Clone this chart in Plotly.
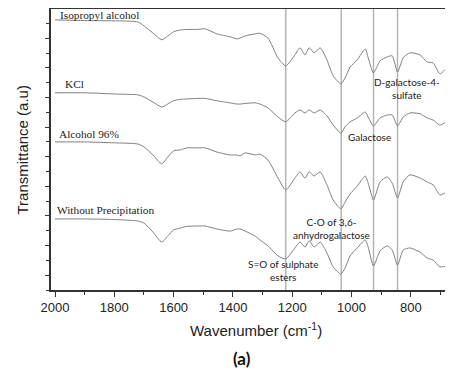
import plotly.graph_objects as go

wavenumber = [2000, 1900, 1800, 1720, 1700, 1670, 1640, 1620, 1600, 1578, 1555, 1520, 1494, 1454,
              1410, 1386, 1376, 1359, 1325, 1309, 1282, 1248, 1222, 1191, 1174, 1157, 1143, 1126,
              1106, 1083, 1062, 1036, 1022, 1005, 981, 954, 944, 926, 904, 880, 863, 845, 826,
              803, 769, 745, 725, 702, 678, 658]

isopropyl = [91.2, 91.0, 90.9, 90.5, 89.2, 86.8, 84.5, 85.8, 87.2, 87.8, 88.0, 88.0, 88.2, 86.5,
             85.5, 84.8, 85.1, 85.8, 86.5, 86.7, 85.1, 78.4, 75.7, 79.4, 81.8, 79.4, 81.8, 80.1,
             81.8, 77.7, 72.3, 69.6, 71.6, 75.3, 77.7, 81.4, 78.4, 73.3, 77.4, 78.7, 79.1, 73.6,
             78.4, 80.1, 79.4, 77.0, 76.7, 73.0, 75.0, 75.3]

kcl = [66.6, 66.6, 66.2, 65.9, 65.2, 63.5, 61.8, 62.8, 63.9, 64.4, 64.5, 64.7, 64.7, 63.9,
       63.2, 62.8, 62.8, 63.0, 63.2, 62.8, 61.5, 58.4, 56.8, 59.8, 60.8, 59.8, 60.8, 59.8,
       60.8, 58.8, 55.7, 53.0, 55.1, 56.8, 58.1, 60.1, 58.4, 55.4, 58.1, 59.1, 59.1, 55.4,
       58.4, 59.8, 59.5, 58.1, 57.4, 55.7, 56.8, 56.1]

alcohol96 = [50.0, 50.0, 49.7, 49.3, 48.3, 45.6, 42.6, 44.9, 47.0, 47.3, 48.0, 48.0, 48.0, 46.6,
             45.6, 45.6, 45.3, 46.3, 45.6, 45.9, 43.9, 37.8, 33.8, 37.8, 39.9, 37.8, 39.9, 38.5,
             39.9, 35.5, 30.4, 27.4, 29.7, 32.4, 35.1, 38.5, 36.1, 30.4, 36.5, 38.2, 36.1, 31.1,
             36.5, 38.9, 37.8, 36.5, 35.5, 32.1, 33.1, 32.8]

without_precip = [24.0, 24.0, 23.8, 23.3, 22.6, 19.6, 16.2, 18.2, 20.3, 20.9, 21.5, 21.6, 21.6, 20.6,
                  19.9, 20.6, 20.6, 19.9, 18.2, 16.9, 14.9, 11.5, 10.5, 14.2, 16.2, 14.5, 16.6, 14.5,
                  16.2, 12.5, 7.8, 5.4, 7.4, 11.5, 14.2, 16.9, 14.5, 8.1, 13.2, 14.9, 13.5, 8.4,
                  13.5, 14.2, 12.8, 10.8, 10.1, 7.8, 8.1, 7.4]

series_names = ["Isopropyl alcohol", "KCl", "Alcohol 96%", "Without Precipitation"]
series_values = [isopropyl, kcl, alcohol96, without_precip]

peak_positions = [1222, 1035, 926, 845]
peak_labels = ["S=O of sulphate<br>esters", "C-O of 3,6-<br>anhydrogalactose",
               "Galactose", "D-galactose-4-<br>sulfate"]
peak_label_x = [1231, 1069, 938, 813]
peak_label_y = [6.7, 20.9, 51.8, 67.9]

name_label_x = [1990, 1973, 1993, 2000]
name_label_y = [92.9, 69.6, 52.7, 27.0]

fig = go.Figure()
for name, vals in zip(series_names, series_values):
    fig.add_trace(go.Scatter(x=wavenumber, y=vals, mode="lines", name=name,
                             line=dict(color="#808080", width=1, shape="spline", smoothing=0.6),
                             showlegend=False))

for p in peak_positions:
    fig.add_shape(type="line", xref="x", yref="paper", x0=p, x1=p, y0=0, y1=1,
                  line=dict(color="#b5b5b5", width=1.5), layer="below")

annotations = []
for name, x, y in zip(series_names, name_label_x, name_label_y):
    annotations.append(dict(x=x, y=y, xref="x", yref="y", text=name, showarrow=False,
                            xanchor="left", yanchor="middle",
                            font=dict(family="Liberation Serif", size=11.3, color="#222")))
for t, x, y in zip(peak_labels, peak_label_x, peak_label_y):
    annotations.append(dict(x=x, y=y, xref="x", yref="y", text=t, showarrow=False,
                            xanchor="center", yanchor="middle", align="center",
                            font=dict(family="Lato", size=10, color="#222")))
annotations.append(dict(x=0.51, y=-0.142, xref="paper", yref="paper",
                        text="Wavenumber (cm<sup>-1</sup>)", showarrow=False,
                        xanchor="center", yanchor="middle",
                        font=dict(family="Liberation Sans", size=15, color="#222")))
annotations.append(dict(x=-0.072, y=0.50, xref="paper", yref="paper",
                        text="Transmittance (a.u)", showarrow=False, textangle=-90,
                        xanchor="center", yanchor="middle",
                        font=dict(family="Liberation Sans", size=15, color="#222")))
annotations.append(dict(x=0.476, y=-0.245, xref="paper", yref="paper",
                        text="<b>(a)</b>", showarrow=False,
                        xanchor="center", yanchor="middle",
                        font=dict(family="Lato", size=17, color="#111")))

# The page body adds an 8px margin; figure size/margins compensate for it.
fig.update_layout(
    width=445, height=362,
    margin=dict(l=43, r=0, t=1, b=80),
    plot_bgcolor="white", paper_bgcolor="white",
    annotations=annotations,
    xaxis=dict(range=[2013.5, 658], tick0=0, dtick=200, ticks="outside", ticklen=5,
               tickwidth=1.2, tickcolor="#333", showline=True, linecolor="#333", linewidth=1.5,
               mirror=True, showgrid=False, zeroline=False,
               tickfont=dict(family="Liberation Sans", size=13, color="#222"),
               minor=dict(tick0=0, dtick=100, ticks="outside", ticklen=3, tickcolor="#333")),
    yaxis=dict(range=[0, 94.9], tick0=5, dtick=10, ticks="outside", ticklen=4,
               tickwidth=1.2, tickcolor="#333", showline=True, linecolor="#333", linewidth=1.5,
               showgrid=False, zeroline=False, showticklabels=False,
               minor=dict(tick0=0, dtick=10, ticks="outside", ticklen=3, tickcolor="#333")),
)

fig.write_html("out.html")
